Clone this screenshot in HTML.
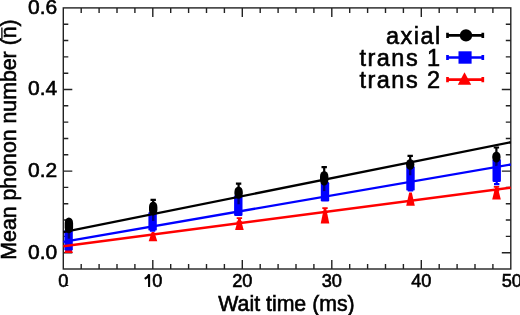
<!DOCTYPE html>
<html><head><meta charset="utf-8"><style>
text{stroke:#000;stroke-width:0.6px}
html,body{margin:0;padding:0;background:#fff;width:520px;height:315px;overflow:hidden}
svg{display:block;will-change:transform}
</style></head><body>
<svg width="520" height="315" viewBox="0 0 520 315">
<rect x="63.3" y="7.9" width="447.5" height="261.1" fill="none" stroke="#222" stroke-width="1.4"/>
<path d="M81.20 269.0v-5M81.20 7.9v5M99.10 269.0v-5M99.10 7.9v5M117.00 269.0v-5M117.00 7.9v5M134.90 269.0v-5M134.90 7.9v5M152.80 269.0v-9M152.80 7.9v9M170.70 269.0v-5M170.70 7.9v5M188.60 269.0v-5M188.60 7.9v5M206.50 269.0v-5M206.50 7.9v5M224.40 269.0v-5M224.40 7.9v5M242.30 269.0v-9M242.30 7.9v9M260.20 269.0v-5M260.20 7.9v5M278.10 269.0v-5M278.10 7.9v5M296.00 269.0v-5M296.00 7.9v5M313.90 269.0v-5M313.90 7.9v5M331.80 269.0v-9M331.80 7.9v9M349.70 269.0v-5M349.70 7.9v5M367.60 269.0v-5M367.60 7.9v5M385.50 269.0v-5M385.50 7.9v5M403.40 269.0v-5M403.40 7.9v5M421.30 269.0v-9M421.30 7.9v9M439.20 269.0v-5M439.20 7.9v5M457.10 269.0v-5M457.10 7.9v5M475.00 269.0v-5M475.00 7.9v5M492.90 269.0v-5M492.90 7.9v5M63.3 252.70h9M510.8 252.70h-9M63.3 236.38h5M510.8 236.38h-5M63.3 220.06h5M510.8 220.06h-5M63.3 203.74h5M510.8 203.74h-5M63.3 187.42h5M510.8 187.42h-5M63.3 171.10h9M510.8 171.10h-9M63.3 154.78h5M510.8 154.78h-5M63.3 138.46h5M510.8 138.46h-5M63.3 122.14h5M510.8 122.14h-5M63.3 105.82h5M510.8 105.82h-5M63.3 89.50h9M510.8 89.50h-9M63.3 73.18h5M510.8 73.18h-5M63.3 56.86h5M510.8 56.86h-5M63.3 40.54h5M510.8 40.54h-5M63.3 24.22h5M510.8 24.22h-5" stroke="#222" stroke-width="1.4" fill="none"/>
<path d="M67.30 244.50H69.90L72.90 253.00H64.30Z" fill="#ff0000"/>
<path d="M151.70 231.90H154.30L157.30 241.30H148.70Z" fill="#ff0000"/>
<path d="M239.40 218.10V222.10M236.70 218.10h5.4M236.70 222.10h5.4" stroke="#ff0000" stroke-width="1.8" fill="none"/>
<path d="M238.10 219.10H240.70L243.70 229.90H235.10Z" fill="#ff0000"/>
<path d="M325.00 208.10V212.00M322.30 208.10h5.4M322.30 212.00h5.4" stroke="#ff0000" stroke-width="1.8" fill="none"/>
<path d="M323.70 209.00H326.30L329.30 223.50H320.70Z" fill="#ff0000"/>
<path d="M409.20 192.40H411.80L414.80 205.80H406.20Z" fill="#ff0000"/>
<path d="M496.50 186.90V190.50M493.80 186.90h5.4M493.80 190.50h5.4" stroke="#ff0000" stroke-width="1.8" fill="none"/>
<path d="M495.20 187.50H497.80L500.80 199.40H492.20Z" fill="#ff0000"/>
<rect x="64.40" y="229.70" width="8.4" height="20.80" rx="1.2" fill="#0000ff"/>
<path d="M152.60 228.60V230.60M149.90 228.60h5.4M149.90 230.60h5.4" stroke="#0000ff" stroke-width="2.2" fill="none"/>
<rect x="148.40" y="211.90" width="8.4" height="18.70" rx="1.2" fill="#0000ff"/>
<rect x="234.10" y="195.30" width="8.4" height="20.70" rx="1.2" fill="#0000ff"/>
<rect x="320.80" y="182.10" width="8.4" height="19.30" rx="1.2" fill="#0000ff"/>
<path d="M410.50 188.60V190.40M407.80 188.60h5.4M407.80 190.40h5.4" stroke="#0000ff" stroke-width="2.2" fill="none"/>
<rect x="406.30" y="166.30" width="8.4" height="24.30" rx="1.2" fill="#0000ff"/>
<path d="M496.70 180.00V184.20M494.00 180.00h5.4M494.00 184.20h5.4" stroke="#0000ff" stroke-width="2.2" fill="none"/>
<rect x="492.50" y="159.00" width="8.4" height="23.00" rx="1.2" fill="#0000ff"/>
<rect x="64.70" y="217.50" width="8.4" height="15.70" rx="4.2" ry="5.5" fill="#000"/>
<path d="M68.90 232.20v6.5" stroke="#000" stroke-opacity="0.55" stroke-width="2.4"/>
<path d="M153.20 199.80V204.50M150.50 199.80h5.4M150.50 204.50h5.4" stroke="#000" stroke-width="2.2" fill="none"/>
<rect x="149.00" y="201.50" width="8.4" height="13.90" rx="4.2" ry="5.5" fill="#000"/>
<path d="M153.20 214.40v6.5" stroke="#000" stroke-opacity="0.55" stroke-width="2.4"/>
<path d="M238.60 183.60V189.40M235.90 183.60h5.4M235.90 189.40h5.4" stroke="#000" stroke-width="2.2" fill="none"/>
<rect x="234.40" y="186.40" width="8.4" height="12.40" rx="4.2" ry="5.5" fill="#000"/>
<path d="M238.60 197.80v6.5" stroke="#000" stroke-opacity="0.55" stroke-width="2.4"/>
<path d="M324.20 167.20V174.00M321.50 167.20h5.4M321.50 174.00h5.4" stroke="#000" stroke-width="2.2" fill="none"/>
<rect x="320.00" y="171.00" width="8.4" height="14.60" rx="4.2" ry="5.5" fill="#000"/>
<path d="M324.20 184.60v6.5" stroke="#000" stroke-opacity="0.55" stroke-width="2.4"/>
<path d="M410.20 155.80V162.00M407.50 155.80h5.4M407.50 162.00h5.4" stroke="#000" stroke-width="2.2" fill="none"/>
<rect x="406.00" y="159.00" width="8.4" height="10.80" rx="4.2" ry="5.5" fill="#000"/>
<path d="M410.20 168.80v6.5" stroke="#000" stroke-opacity="0.55" stroke-width="2.4"/>
<path d="M496.40 147.50V154.50M493.70 147.50h5.4M493.70 154.50h5.4" stroke="#000" stroke-width="2.2" fill="none"/>
<rect x="492.20" y="151.50" width="8.4" height="11.00" rx="4.2" ry="5.5" fill="#000"/>
<path d="M496.40 161.50v6.5" stroke="#000" stroke-opacity="0.55" stroke-width="2.4"/>
<line x1="63.30" y1="232.10" x2="510.80" y2="142.23" stroke="#000" stroke-width="2.4"/>
<line x1="63.30" y1="241.81" x2="510.80" y2="164.51" stroke="#0000ff" stroke-width="2.4"/>
<line x1="63.30" y1="246.25" x2="510.80" y2="187.71" stroke="#ff0000" stroke-width="2.4"/>
<text x="57.2" y="259.10" font-family="Liberation Sans, sans-serif" font-size="21" text-anchor="end">0.0</text>
<text x="57.2" y="176.80" font-family="Liberation Sans, sans-serif" font-size="21" text-anchor="end">0.2</text>
<text x="57.2" y="95.20" font-family="Liberation Sans, sans-serif" font-size="21" text-anchor="end">0.4</text>
<text x="57.2" y="13.60" font-family="Liberation Sans, sans-serif" font-size="21" text-anchor="end">0.6</text>
<text x="63.30" y="287" font-family="Liberation Sans, sans-serif" font-size="18.2" text-anchor="middle">0</text>
<text x="152.3" y="287" font-family="Liberation Sans, sans-serif" font-size="18.2">0</text>
<path d="M144.7 278.9C146.6 277.9 148.4 276.4 149.1 274.3V287.1" stroke="#000" stroke-width="2.1" fill="none"/>
<text x="242.30" y="287" font-family="Liberation Sans, sans-serif" font-size="18.2" text-anchor="middle">20</text>
<text x="331.80" y="287" font-family="Liberation Sans, sans-serif" font-size="18.2" text-anchor="middle">30</text>
<text x="421.30" y="287" font-family="Liberation Sans, sans-serif" font-size="18.2" text-anchor="middle">40</text>
<text x="511.80" y="287" font-family="Liberation Sans, sans-serif" font-size="18.2" text-anchor="middle">50</text>
<path d="M65.6 285.2L68.3 285.5" stroke="#000" stroke-width="1.2"/>
<text x="286.5" y="311" font-family="Liberation Sans, sans-serif" font-size="21.3" text-anchor="middle">Wait time (ms)</text>
<text transform="translate(16.3 139.5) rotate(-90)" font-family="Liberation Sans, sans-serif" font-size="21.3" text-anchor="middle">Mean phonon number (n)</text>
<path d="M1.9 27.4V39.2" stroke="#000" stroke-width="1.3"/>
<text x="441.6" y="44.00" font-family="Liberation Sans, sans-serif" font-size="23.5" letter-spacing="1.45" text-anchor="end">axial</text>
<path d="M447.5 35.4H482.8M447.5 32.8v5.2M482.8 32.8v5.2" stroke="#000" stroke-width="2.7" fill="none"/>
<circle cx="466" cy="35.4" r="6.2" fill="#000"/>
<text x="441.6" y="66.10" font-family="Liberation Sans, sans-serif" font-size="23.5" letter-spacing="1.45" text-anchor="end">trans 1</text>
<path d="M447.5 57.5H482.8M447.5 54.9v5.2M482.8 54.9v5.2" stroke="#0000ff" stroke-width="2.7" fill="none"/>
<rect x="458.5" y="51.30" width="13.1" height="12.4" fill="#0000ff"/>
<text x="441.6" y="88.20" font-family="Liberation Sans, sans-serif" font-size="23.5" letter-spacing="1.45" text-anchor="end">trans 2</text>
<path d="M447.5 79.6H482.8M447.5 77.0v5.2M482.8 77.0v5.2" stroke="#ff0000" stroke-width="2.7" fill="none"/>
<path d="M464.5 72.20L471.2 84.70H457.8Z" fill="#ff0000"/>
</svg>
</body></html>
